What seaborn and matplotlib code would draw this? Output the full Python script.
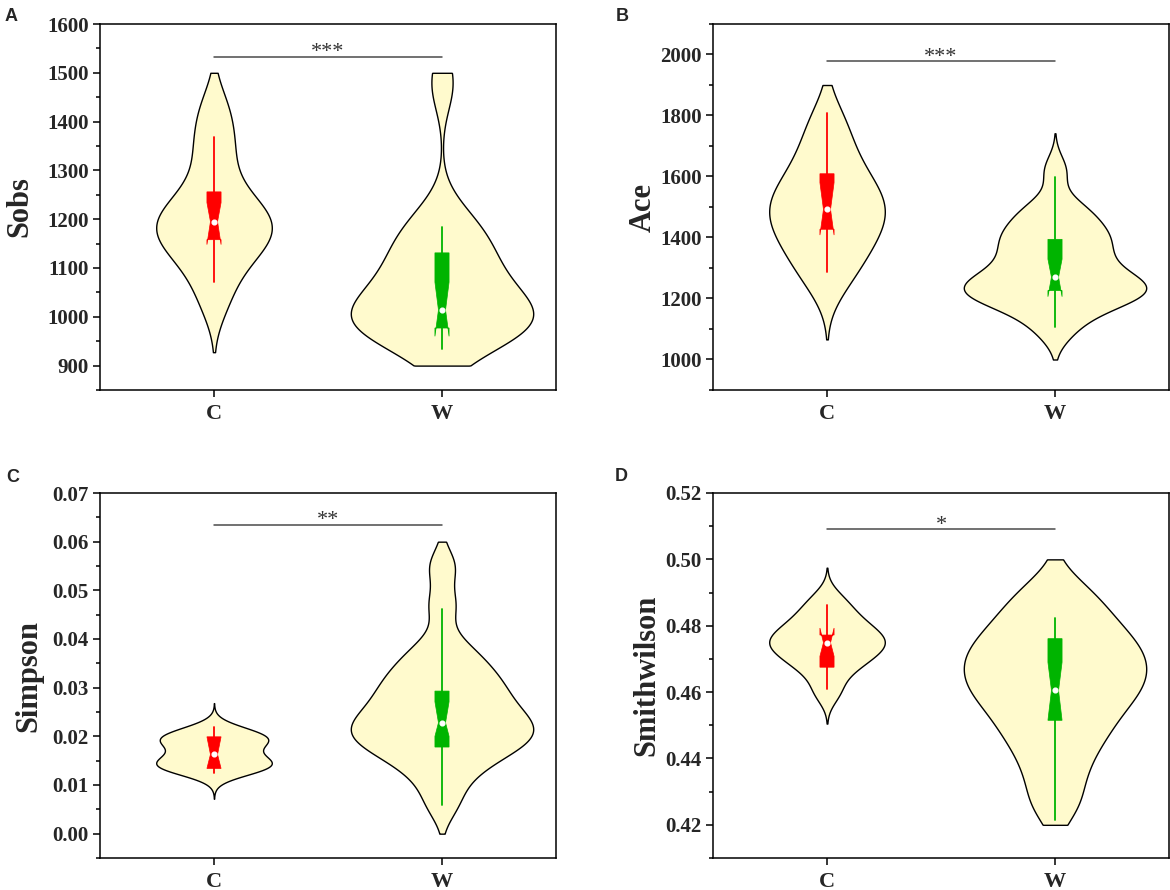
import numpy as np
import pandas as pd
import seaborn as sns
import matplotlib.pyplot as plt
from matplotlib.ticker import AutoMinorLocator, MultipleLocator, FormatStrFormatter


GROUPS = ["C", "W"]

# individual sample values, estimated from the violin outlines
SOBS_C = [1030, 1090, 1125, 1150, 1165, 1180, 1195, 1210, 1230, 1260, 1320, 1370, 1430]
SOBS_W = [945, 962, 974, 983, 991, 1000, 1012, 1028, 1048, 1070, 1095, 1120, 1148, 1175, 1205, 1480]
ACE_C = [1250, 1320, 1370, 1410, 1450, 1480, 1510, 1540, 1580, 1630, 1700, 1790]
ACE_W = [1090, 1140, 1175, 1195, 1205, 1215, 1225, 1235, 1245, 1255, 1270, 1290, 1310, 1340,
         1360, 1380, 1405, 1425, 1440, 1490, 1500, 1620]
SIMPSON_C = [0.0125, 0.0135, 0.014, 0.0145, 0.0155, 0.0165, 0.0185, 0.019, 0.0195, 0.0205, 0.0215]
SIMPSON_W = [0.006, 0.011, 0.014, 0.016, 0.0175, 0.0185, 0.0195, 0.0205, 0.0215, 0.0225, 0.0235,
             0.0245, 0.026, 0.0275, 0.029, 0.0305, 0.032, 0.034, 0.036, 0.039, 0.047, 0.055]
SMITH_C = [0.460, 0.466, 0.469, 0.471, 0.473, 0.4745, 0.4755, 0.477, 0.479, 0.481, 0.484, 0.488]
SMITH_W = [0.426, 0.436, 0.444, 0.449, 0.454, 0.458, 0.461, 0.464, 0.467, 0.470, 0.473, 0.476,
           0.480, 0.485, 0.491]

# box summaries: whisker low, q1, notch low, median, notch high, q3, whisker high
BOX_SOBS_C = [1071, 1158, 1148, 1195, 1234, 1256, 1369]
BOX_SOBS_W = [934, 977, 960, 1014, 1071, 1131, 1185]
BOX_ACE_C = [1288, 1427, 1408, 1492, 1580, 1609, 1809]
BOX_ACE_W = [1108, 1226, 1206, 1270, 1329, 1394, 1599]
BOX_SIMPSON_C = [0.01238, 0.0134, 0.0134, 0.01627, 0.0199, 0.0199, 0.02195]
BOX_SIMPSON_W = [0.0059, 0.0178, 0.0200, 0.0228, 0.0271, 0.0293, 0.0461]
BOX_SMITH_C = [0.4610, 0.4675, 0.4708, 0.4749, 0.4793, 0.4772, 0.4861]
BOX_SMITH_W = [0.4214, 0.4515, 0.4515, 0.4605, 0.4690, 0.4761, 0.4823]

# range the density outline is cut to (C, W)
CLIP_SOBS = [(-np.inf, 1500), (900, 1500)]
CLIP_ACE = [(-np.inf, 1900), (1000, np.inf)]
CLIP_SIMPSON = [(-np.inf, np.inf), (0.0, 0.06)]
CLIP_SMITH = [(-np.inf, np.inf), (0.42, 0.50)]

SIG_LABELS = ["***", "***", "**", "*"]
SIG_LEVELS = [1533, 1978, 0.0635, 0.5091]

PANEL_LETTERS = ["A", "B", "C", "D"]
YLABELS = ["Sobs", "Ace", "Simpson", "Smithwilson"]

VIOLIN_FILL = "#FFFACD"
BOX_COLORS = ["#FF0000", "#00B400"]

PANELS = [
    dict(data=[SOBS_C, SOBS_W], box=[BOX_SOBS_C, BOX_SOBS_W], clip=CLIP_SOBS,
         ylim=(850, 1600), step=100, fmt="%d", bw=[0.73, 0.72], cut=[2.1, 2.0],
         rect=[100, 24, 456, 366], label_x=-0.143),
    dict(data=[ACE_C, ACE_W], box=[BOX_ACE_C, BOX_ACE_W], clip=CLIP_ACE,
         ylim=(900, 2100), step=200, fmt="%d", bw=[0.837, 0.687], cut=[2.3, 2.5],
         rect=[713, 24, 456, 366], label_x=-0.121),
    dict(data=[SIMPSON_C, SIMPSON_W], box=[BOX_SIMPSON_C, BOX_SIMPSON_W], clip=CLIP_SIMPSON,
         ylim=(-0.005, 0.07), step=0.01, fmt="%.2f", bw=[0.9, 0.55], cut=[3.1, 2.2],
         rect=[100, 493, 456, 365], label_x=-0.125),
    dict(data=[SMITH_C, SMITH_W], box=[BOX_SMITH_C, BOX_SMITH_W], clip=CLIP_SMITH,
         ylim=(0.41, 0.52), step=0.02, fmt="%.2f", bw=[0.77, 0.61], cut=[2.6, 2.0],
         rect=[713, 493, 456, 365], label_x=-0.113),
]
VIOLIN_WIDTHS = [0.507, 0.80]
LETTER_POS = [(5, 8), (616, 8), (6, 469), (615, 468)]

FIG_W, FIG_H = 1170, 890


def draw_violin(ax, group, values, width, bw, cut, clip):
    df = pd.DataFrame({"group": group, "value": values})
    n0 = len(ax.collections)
    sns.violinplot(data=df, x="group", y="value", order=GROUPS, ax=ax,
                   color=VIOLIN_FILL, saturation=1, linecolor="black", linewidth=1.0,
                   inner=None, width=width, bw_adjust=bw, cut=cut,
                   density_norm="width", gridsize=300)
    # flat ends where the outline was cut off
    lo, hi = clip
    for coll in ax.collections[n0:]:
        verts = [p.vertices.copy() for p in coll.get_paths()]
        for v in verts:
            v[:, 1] = np.clip(v[:, 1], lo, hi)
        coll.set_verts(verts)


def draw_box(ax, pos, stats, color):
    wlo, q1, cilo, med, cihi, q3, whi = stats
    ax.bxp([dict(med=med, q1=q1, q3=q3, whislo=wlo, whishi=whi,
                 cilo=cilo, cihi=cihi, fliers=[])],
           positions=[pos], widths=0.062, shownotches=True, showcaps=False,
           showfliers=False, patch_artist=True, manage_ticks=False,
           boxprops=dict(facecolor=color, edgecolor=color, linewidth=0.5),
           whiskerprops=dict(color=color, linewidth=1.3),
           medianprops=dict(linewidth=0))
    ax.plot([pos], [med], marker="o", ms=3.4, mfc="white", mec="white", zorder=6)


def main():
    sns.set_theme(style="ticks")
    plt.rcParams["font.family"] = ["Liberation Serif", "DejaVu Serif"]
    plt.rcParams["font.weight"] = "bold"

    fig = plt.figure(figsize=(FIG_W / 100, FIG_H / 100), dpi=100)

    for i, p in enumerate(PANELS):
        x0, y0, w, h = p["rect"]
        ax = fig.add_axes([x0 / FIG_W, 1 - (y0 + h) / FIG_H, w / FIG_W, h / FIG_H])

        for j, g in enumerate(GROUPS):
            draw_violin(ax, g, p["data"][j], VIOLIN_WIDTHS[j], p["bw"][j], p["cut"][j], p["clip"][j])
        for j, g in enumerate(GROUPS):
            draw_box(ax, j, p["box"][j], BOX_COLORS[j])

        y = SIG_LEVELS[i]
        ax.plot([0, 1], [y, y], color="#4a4a4a", lw=1.1)
        ax.annotate(SIG_LABELS[i], xy=(0.5, y), xytext=(0, -0.5), textcoords="offset points",
                    ha="center", va="baseline", fontsize=16, fontweight="normal", color="#333333")

        ax.set_xlim(-0.5, 1.5)
        ax.set_ylim(*p["ylim"])
        ax.yaxis.set_major_locator(MultipleLocator(p["step"]))
        ax.yaxis.set_minor_locator(AutoMinorLocator(2))
        ax.yaxis.set_major_formatter(FormatStrFormatter(p["fmt"]))
        ax.set_xticks([0, 1], GROUPS)
        ax.set_xlabel("")
        ax.set_ylabel(YLABELS[i], fontsize=22, fontweight="bold")
        ax.yaxis.set_label_coords(p["label_x"], 0.5)

        for s in ax.spines.values():
            s.set_visible(True)
            s.set_linewidth(1.1)
            s.set_color("black")
        ax.tick_params(axis="both", which="both", direction="out", top=False, right=False,
                       width=1.1, color="black")
        ax.tick_params(axis="y", which="major", length=5, labelsize=15, pad=3)
        ax.tick_params(axis="y", which="minor", length=3)
        ax.tick_params(axis="x", which="major", length=5, labelsize=16, pad=5)
        ax.tick_params(axis="x", which="minor", bottom=False)

        lx, ly = LETTER_POS[i]
        fig.text(lx / FIG_W, 1 - ly / FIG_H, PANEL_LETTERS[i], ha="left", va="top",
                 fontsize=13, fontweight="bold", family=["Liberation Sans", "DejaVu Sans"])

    fig.savefig("out.png", dpi=100)


if __name__ == "__main__":
    main()
